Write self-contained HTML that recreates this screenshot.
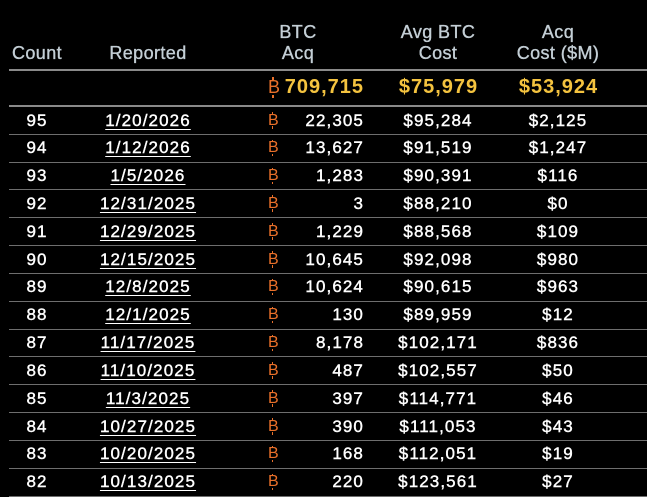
<!DOCTYPE html>
<html>
<head>
<meta charset="utf-8">
<style>
  html, body { margin:0; padding:0; }
  body { width:647px; height:497px; background:#000; position:relative; overflow:hidden;
         font-family:"Liberation Sans", Arial, sans-serif; }
  .h { position:absolute; color:#c4cfd6; font-size:18px; line-height:21px; letter-spacing:0.4px; text-align:center; white-space:nowrap; -webkit-text-stroke:0.35px #c4cfd6; }
  .hl { position:absolute; left:9px; right:0; height:2px; background:#8a8a8a; }
  .row { position:absolute; left:0; width:647px; height:27.83px; }
  .row .sep { position:absolute; left:9px; right:0; bottom:-0.5px; height:1px; background:#6e6e6e; }
  .c { position:absolute; top:0; height:28px; line-height:28px; color:#fff; font-size:17px; letter-spacing:1.1px; white-space:nowrap; -webkit-text-stroke:0.4px #fff; }
  .cnt { left:0; width:74px; text-align:center; }
  .dt { left:88px; width:120px; text-align:center; }
  .dt span { text-decoration:underline; text-decoration-thickness:1.3px; text-underline-offset:2.5px; }
  .num { left:290px; width:74px; text-align:right; }
  .avg { left:378px; width:120px; text-align:center; }
  .cost { left:498px; width:120px; text-align:center; }
  .b { position:absolute; color:#e9702a; font-size:16px; line-height:28px; top:0; left:268px; }
  .b::before, .b::after { content:""; position:absolute; left:3.5px; width:1.3px; height:2.5px; background:#e9702a; }
  .b::before { top:5.5px; }
  .b::after { top:19.5px; }
  .tot { position:absolute; top:70px; height:35px; line-height:35px; color:#f4c33f; font-weight:bold; font-size:20px; letter-spacing:1px; white-space:nowrap; }
  .tb { position:absolute; top:70px; left:268px; height:35px; line-height:35px; color:#e9702a; font-size:18px; }
  .tb::before, .tb::after { content:""; position:absolute; left:4px; width:1.5px; height:3px; background:#e9702a; }
  .tb::before { top:7px; }
  .tb::after { top:24.5px; }
</style>
</head>
<body>
  <div class="h" style="left:0;width:74px;top:42.6px;">Count</div>
  <div class="h" style="left:88px;width:120px;top:42.6px;">Reported</div>
  <div class="h" style="left:258px;width:80px;top:21.6px;">BTC<br>Acq</div>
  <div class="h" style="left:378px;width:120px;top:21.6px;">Avg BTC<br>Cost</div>
  <div class="h" style="left:498px;width:120px;top:21.6px;">Acq<br>Cost ($M)</div>

  <div class="hl" style="top:69px;"></div>
  <div class="tb">B</div>
  <div class="tot" style="left:284px;width:80px;text-align:right;">709,715</div>
  <div class="tot" style="left:378px;width:121px;text-align:center;">$75,979</div>
  <div class="tot" style="left:498px;width:121px;text-align:center;">$53,924</div>
  <div class="hl" style="top:105px;"></div>

  <div class="row" style="top:106.5px;"><div class="c cnt">95</div><div class="c dt"><span>1/20/2026</span></div><div class="b">B</div><div class="c num">22,305</div><div class="c avg">$95,284</div><div class="c cost">$2,125</div><div class="sep"></div></div>
  <div class="row" style="top:134.33px;"><div class="c cnt">94</div><div class="c dt"><span>1/12/2026</span></div><div class="b">B</div><div class="c num">13,627</div><div class="c avg">$91,519</div><div class="c cost">$1,247</div><div class="sep"></div></div>
  <div class="row" style="top:162.16px;"><div class="c cnt">93</div><div class="c dt"><span>1/5/2026</span></div><div class="b">B</div><div class="c num">1,283</div><div class="c avg">$90,391</div><div class="c cost">$116</div><div class="sep"></div></div>
  <div class="row" style="top:189.99px;"><div class="c cnt">92</div><div class="c dt"><span>12/31/2025</span></div><div class="b">B</div><div class="c num">3</div><div class="c avg">$88,210</div><div class="c cost">$0</div><div class="sep"></div></div>
  <div class="row" style="top:217.82px;"><div class="c cnt">91</div><div class="c dt"><span>12/29/2025</span></div><div class="b">B</div><div class="c num">1,229</div><div class="c avg">$88,568</div><div class="c cost">$109</div><div class="sep"></div></div>
  <div class="row" style="top:245.65px;"><div class="c cnt">90</div><div class="c dt"><span>12/15/2025</span></div><div class="b">B</div><div class="c num">10,645</div><div class="c avg">$92,098</div><div class="c cost">$980</div><div class="sep"></div></div>
  <div class="row" style="top:273.48px;"><div class="c cnt">89</div><div class="c dt"><span>12/8/2025</span></div><div class="b">B</div><div class="c num">10,624</div><div class="c avg">$90,615</div><div class="c cost">$963</div><div class="sep"></div></div>
  <div class="row" style="top:301.31px;"><div class="c cnt">88</div><div class="c dt"><span>12/1/2025</span></div><div class="b">B</div><div class="c num">130</div><div class="c avg">$89,959</div><div class="c cost">$12</div><div class="sep"></div></div>
  <div class="row" style="top:329.14px;"><div class="c cnt">87</div><div class="c dt"><span>11/17/2025</span></div><div class="b">B</div><div class="c num">8,178</div><div class="c avg">$102,171</div><div class="c cost">$836</div><div class="sep"></div></div>
  <div class="row" style="top:356.97px;"><div class="c cnt">86</div><div class="c dt"><span>11/10/2025</span></div><div class="b">B</div><div class="c num">487</div><div class="c avg">$102,557</div><div class="c cost">$50</div><div class="sep"></div></div>
  <div class="row" style="top:384.8px;"><div class="c cnt">85</div><div class="c dt"><span>11/3/2025</span></div><div class="b">B</div><div class="c num">397</div><div class="c avg">$114,771</div><div class="c cost">$46</div><div class="sep"></div></div>
  <div class="row" style="top:412.63px;"><div class="c cnt">84</div><div class="c dt"><span>10/27/2025</span></div><div class="b">B</div><div class="c num">390</div><div class="c avg">$111,053</div><div class="c cost">$43</div><div class="sep"></div></div>
  <div class="row" style="top:440.46px;"><div class="c cnt">83</div><div class="c dt"><span>10/20/2025</span></div><div class="b">B</div><div class="c num">168</div><div class="c avg">$112,051</div><div class="c cost">$19</div><div class="sep"></div></div>
  <div class="row" style="top:468.29px;"><div class="c cnt">82</div><div class="c dt"><span>10/13/2025</span></div><div class="b">B</div><div class="c num">220</div><div class="c avg">$123,561</div><div class="c cost">$27</div><div class="sep"></div></div>
</body>
</html>
